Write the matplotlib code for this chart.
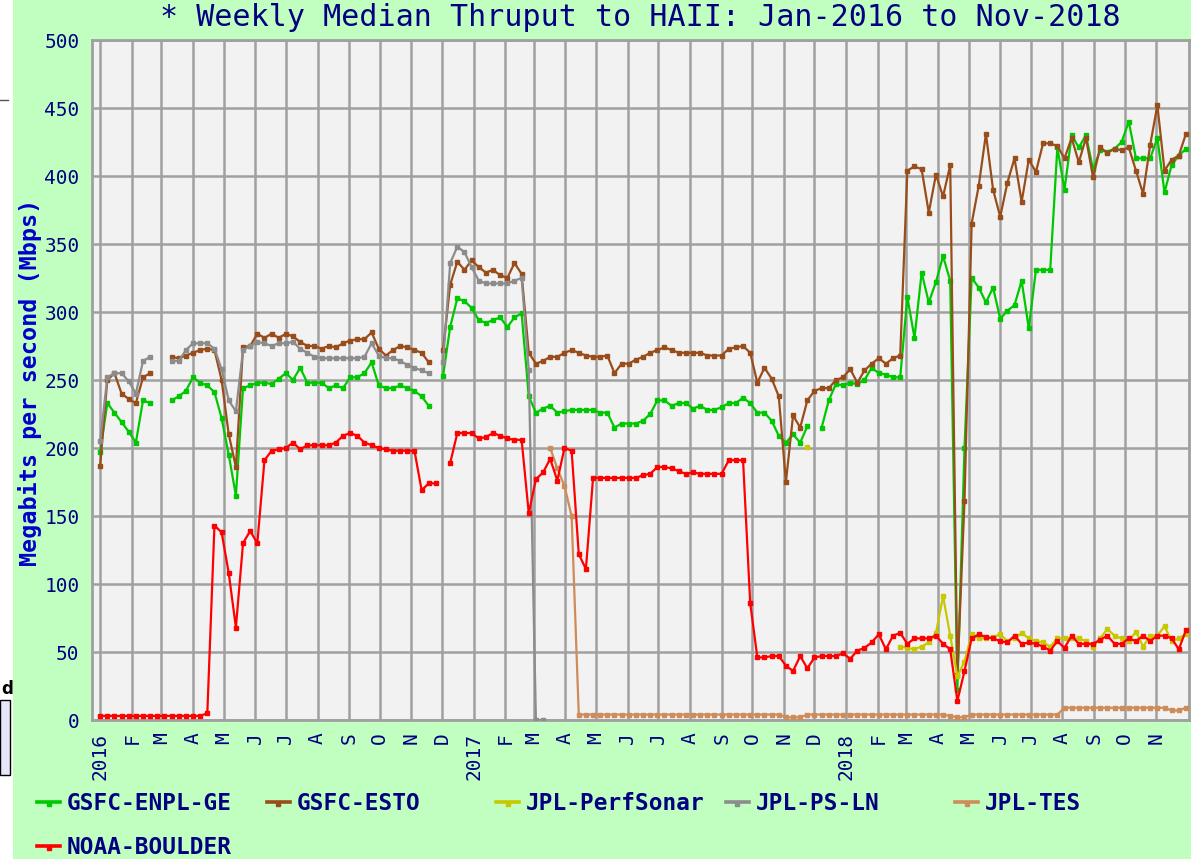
import numpy as np
import pandas as pd
import matplotlib
matplotlib.use("Agg")
import matplotlib.pyplot as plt
from matplotlib.lines import Line2D
from matplotlib.patches import Rectangle

nan = np.nan

# weekly medians (Mbps), one value per week counted from 2016-01-01
first_day = pd.Timestamp("2016-01-01")

series_names = ["GSFC-ENPL-GE", "GSFC-ESTO", "JPL-PerfSonar", "JPL-PS-LN", "JPL-TES", "NOAA-BOULDER"]
series_colors = ["#00c800", "#994d1a", "#c8c800", "#8c8c8c", "#cd8c5a", "#ff0000"]
# week number of the first value of each series
series_start = [0, 0, 99, 0, 63, 0]

gsfc_enpl_ge = [
    # 2016
    197, 233, 226, 219, 212, 204, 235, 233, nan, nan,
    235, 238, 242, 252, 248, 246, 241, 222, 195, 165,
    244, 246, 248, 248, 247, 251, 255, 250, 259, 248,
    248, 248, 244, 246, 244, 252, 252, 255, 263, 246,
    244, 244, 246, 244, 242, 238, 231, nan, 253, 289,
    310, 308,
    # 2017
    303, 294, 292, 294, 296, 289, 296, 299, 238,
    226, 229, 231, 226, 227, 228, 228, 228, 228, 226,
    226, 215, 218, 218, 218, 220, 225, 235, 235, 231,
    233, 233, 229, 231, 228, 228, 230, 233, 233, 237,
    233, 226, 226, 220, 209, 204, 210, 204, 216,
    nan, 215, 235, 247, 246,
    # 2018
    248, 247, 250, 259, 255, 254, 252, 252,
    311, 281, 329, 307, 322, 341, 323, 22, 200,
    325, 318, 307, 318, 295, 301, 305, 323, 288, 331, 331, 331,
    421, 390, 430, 421, 430, 405, 419, 418, 420, 425,
    440, 413, 413, 413, 428, 388, 408, 415, 420,
]

gsfc_esto = [
    # 2016
    187, 250, 255, 240, 236, 233, 252, 255, nan, nan,
    267, 266, 268, 270, 272, 273, 272, 250, 210, 186,
    274, 275, 284, 281, 284, 281, 284, 282, 278, 275,
    275, 273, 275, 274, 277, 279, 280, 280, 285, 273,
    268, 272, 275, 274, 272, 270, 263, nan, 272, 320,
    337, 331,
    # 2017
    338, 333, 329, 331, 327, 325, 336, 328, 270,
    262, 264, 267, 267, 270, 272, 270, 268, 267, 267,
    268, 255, 262, 262, 265, 267, 270, 272, 274, 272,
    270, 270, 270, 270, 268, 268, 268, 273, 274, 275,
    270, 248, 259, 251, 238, 175, 224, 215, 235,
    242, 244, 244, 250, 252,
    # 2018
    258, 248, 257, 262, 266, 262, 266, 268,
    404, 407, 405, 373, 401, 385, 408, 33, 161,
    365, 393, 431, 390, 370, 395, 413, 381, 412, 403,
    424, 424, 422, 413, 428, 410, 428, 399, 421, 417,
    420, 419, 421, 404, 387, 423, 452, 404, 412, 415, 431,
]

jpl_perfsonar = [
    201, nan, nan, nan, nan, nan, nan, nan, nan, nan, nan, nan, nan,
    54, 53, 52, 54, 57, 64, 91, 62, 32, 43,
    63, 60, 60, 61, 63, 58, 60, 64, 60, 58,
    57, 54, 60, 60, 60, 60, 58, 54, 60, 67,
    62, 60, 58, 65, 54, 62, 62, 69, 58, 60, 63,
]

jpl_ps_ln = [
    205, 252, 255, 255, 249, 240, 264, 267, nan, nan,
    264, 264, 272, 277, 277, 277, 273, 258, 235, 227,
    272, 275, 278, 277, 275, 277, 277, 278, 273, 270,
    267, 266, 266, 266, 266, 266, 266, 267, 277, 268,
    266, 266, 264, 261, 259, 257, 255, nan, 263, 336,
    348, 344,
    333, 323, 321, 321, 321, 321, 323, 325, 257, 0, 0,
]

jpl_tes = [
    200, 185, 172, 150,
    4, 4, 4, 4, 4, 4, 4, 4, 4, 4, 4, 4, 4, 4, 4,
    4, 4, 4, 4, 4, 4, 4, 4, 4, 4, 4, 4, 4, 4,
    2, 2, 2,
    4, 4, 4, 4, 4, 4, 4, 4, 4, 4, 4, 4, 4, 4, 4, 4, 4, 4, 4, 4,
    3, 2, 2,
    4, 4, 4, 4, 4, 4, 4, 4, 4, 4, 4, 4, 4,
    9, 9, 9, 9, 9, 9, 9, 9, 9, 9, 9, 9, 9, 9, 9,
    7, 7, 9,
]

noaa_boulder = [
    # 2016
    3, 3, 3, 3, 3, 3, 3, 3, 3, 3, 3, 3, 3, 3, 3,
    5, 143, 138, 108, 68, 130, 139, 130, 191, 198,
    199, 200, 204, 199, 202, 202, 202, 202, 204, 209,
    211, 209, 204, 202, 200, 199, 198, 198, 198, 198,
    169, 174, 174, nan, 189, 211, 211,
    # 2017
    211, 207, 208, 211, 209, 207, 206, 206, 152,
    177, 182, 192, 176, 200, 198, 122, 111,
    178, 178, 178, 178, 178, 178, 178, 180, 181,
    186, 186, 185, 183, 181, 182, 181, 181, 181, 181,
    191, 191, 191, 86,
    46, 46, 47, 47, 40, 36, 47, 38, 46, 47, 47, 47, 49,
    # 2018
    45, 51, 53, 57, 63, 52, 62, 64,
    56, 60, 60, 60, 62, 56, 52, 14,
    36, 60, 63, 61, 60, 58, 57, 62, 56, 57,
    56, 54, 51, 58, 53, 62, 56, 56, 56, 59,
    62, 56, 56, 60, 58, 62, 58, 62, 62, 60, 52, 66,
]

series_values = [gsfc_enpl_ge, gsfc_esto, jpl_perfsonar, jpl_ps_ln, jpl_tes, noaa_boulder]

title = "* Weekly Median Thruput to HAII: Jan-2016 to Nov-2018"
y_title = "Megabits per second (Mbps)"

W, H = 1191, 859
navy = "#000080"
mono = "DejaVu Sans Mono"

fig = plt.figure(figsize=(W / 100, H / 100), dpi=100, facecolor="#c0ffc0")
ax = fig.add_axes([92 / W, 1 - 720 / H, (1189 - 92) / W, (720 - 40) / H])
ax.set_facecolor("#f2f2f2")

for name, vals, start, color in zip(series_names, series_values, series_start, series_colors):
    vals = np.array(vals, dtype=float)
    weeks = start + np.arange(len(vals))
    dates = first_day + pd.to_timedelta(7 * weeks, unit="D")
    ax.plot(dates, vals, color=color, lw=1.6, marker="s", ms=3.2,
            mfc=color, mec=color, zorder=3)

ax.set_xlim(pd.Timestamp("2015-12-24"), pd.Timestamp("2018-12-03"))
ax.set_ylim(0, 500)

months = pd.date_range("2016-01-01", "2018-11-01", freq="MS")
month_labels = [str(m.year) if m.month == 1 else m.strftime("%b")[0] for m in months]
ax.set_xticks(months)
ax.set_xticklabels(month_labels, rotation=90, family=mono, fontsize=14, color=navy)
ax.set_yticks(np.arange(0, 501, 50))
ax.set_yticklabels([str(v) for v in range(0, 501, 50)], family=mono, fontsize=14, color=navy)
ax.tick_params(axis="both", length=0)
ax.tick_params(axis="x", pad=9)
ax.tick_params(axis="y", pad=9)

ax.grid(True, color="#a0a0a0", lw=1.8)
ax.set_axisbelow(True)
for sp in ax.spines.values():
    sp.set_color("#a0a0a0")
    sp.set_linewidth(2)

fig.text(640.5 / W, 1 - 18 / H, title, ha="center", va="center",
         fontsize=21.6, color=navy, family=mono)
fig.text(30 / W, 1 - 382 / H, y_title, rotation=90, ha="center", va="center",
         fontsize=16.8, fontweight="bold", color="#0000cc", family=mono)

# legend drawn by hand, five entries per row
for k, (name, color) in enumerate(zip(series_names, series_colors)):
    row, col = divmod(k, 5)
    x0 = (37 + 229.5 * col) / W
    y0 = 1 - (802 + 44 * row) / H
    fig.add_artist(Line2D([x0, x0 + 23 / W], [y0, y0], transform=fig.transFigure,
                          color=color, lw=2.6))
    fig.add_artist(Line2D([x0 + 11.5 / W], [y0 - 2 / H], transform=fig.transFigure,
                          color=color, marker="s", ms=3, lw=0))
    fig.text(x0 + 30 / W, y0 - 2 / H, name, ha="left", va="center", fontsize=16.4,
             fontweight="bold", color=navy, family=mono)

# white strip left over from the page the chart was cut from
fig.patches.append(Rectangle((0, 0), 13 / W, 1, transform=fig.transFigure,
                             facecolor="white", edgecolor="none"))
fig.patches.append(Rectangle((0, 1 - 775 / H), 10 / W, 75 / H, transform=fig.transFigure,
                             facecolor="#e6e6fa", edgecolor="black", lw=1))
fig.add_artist(Line2D([0, 8 / W], [1 - 100 / H, 1 - 100 / H], transform=fig.transFigure,
                      color="#555555", lw=1))
fig.text(1 / W, 1 - 689 / H, "d", ha="left", va="center", fontsize=12,
         fontweight="bold", color="black")

fig.savefig("out.png", dpi=100, facecolor=fig.get_facecolor())
